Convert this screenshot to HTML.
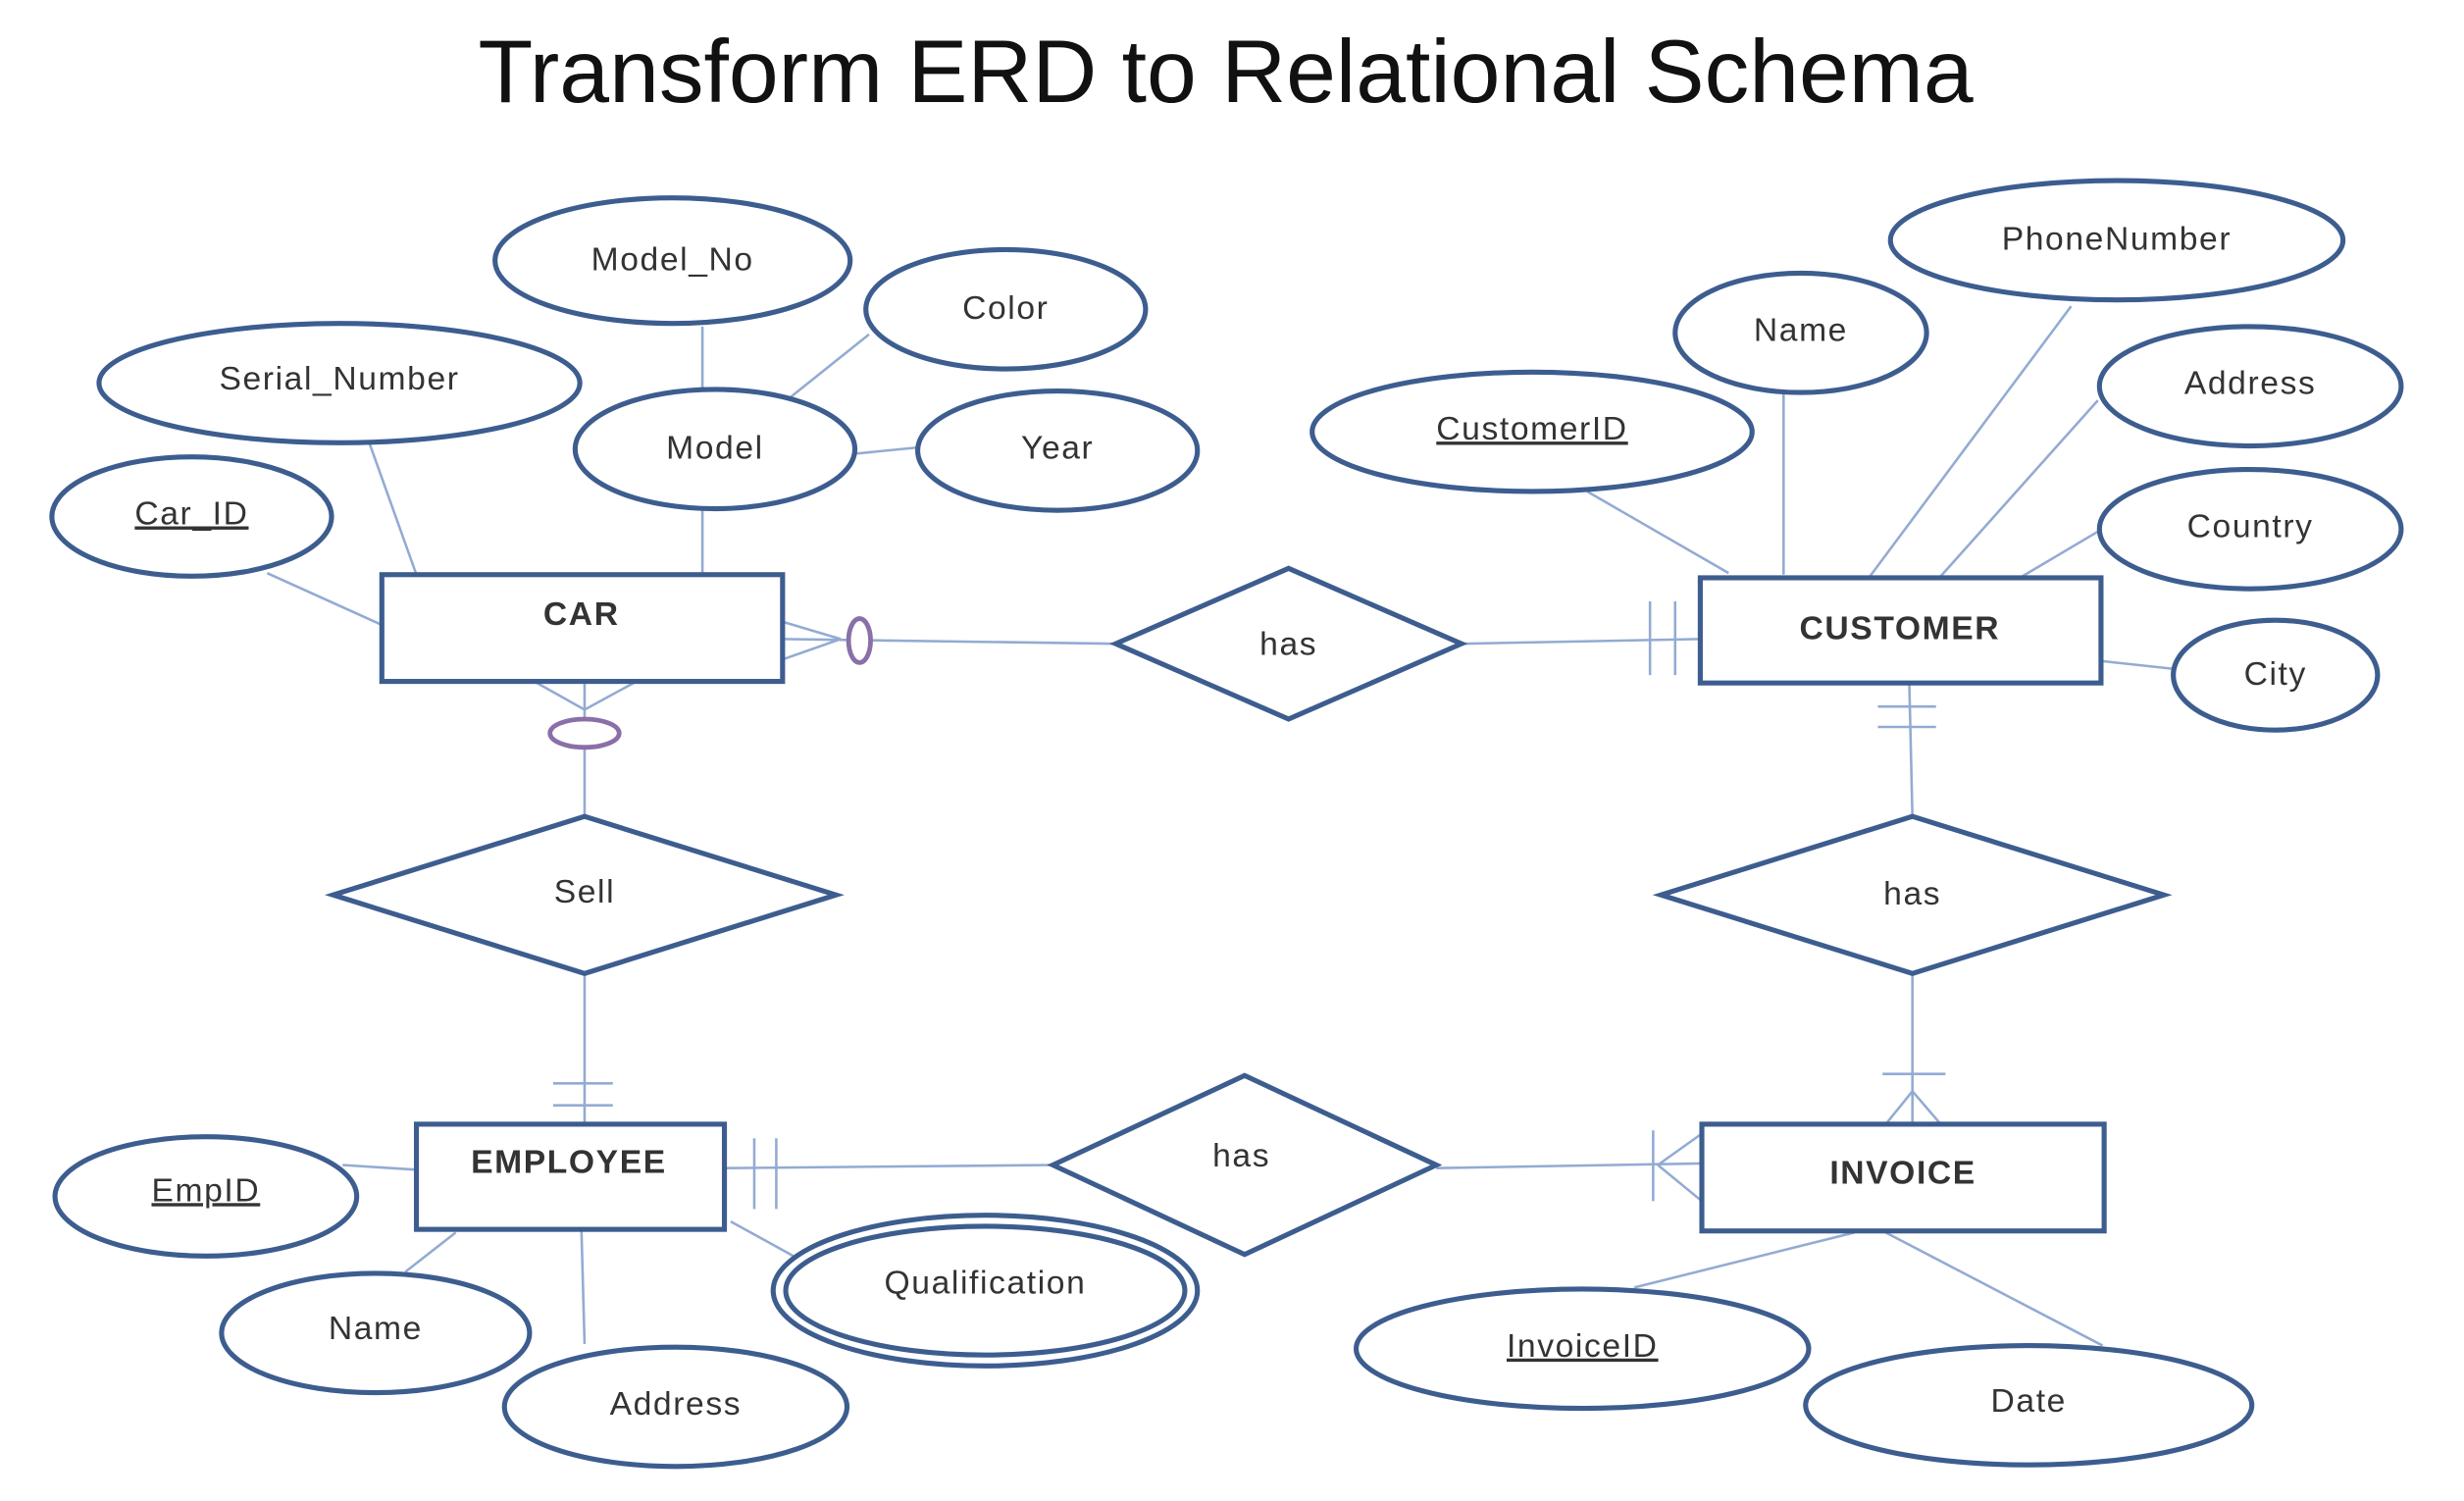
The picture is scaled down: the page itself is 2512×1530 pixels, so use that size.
<!DOCTYPE html>
<html><head><meta charset="utf-8"><style>
html,body{margin:0;padding:0;background:#fff;}
svg{display:block;}
text{font-family:"Liberation Sans",sans-serif;fill:#333;}
</style></head><body>
<svg width="2512" height="1530" viewBox="0 0 1568 956" preserveAspectRatio="none" xmlns="http://www.w3.org/2000/svg">
<rect width="1568" height="956" fill="#fff"/>
<text x="780" y="65" font-size="57" text-anchor="middle" style="fill:#111">Transform ERD to Relational Schema</text>
<g stroke="#93abd3" stroke-width="1.6" fill="none">
<line x1="447" y1="208" x2="447" y2="248"/>
<line x1="553" y1="213" x2="503" y2="253"/>
<line x1="544" y1="289" x2="584" y2="285"/>
<line x1="447" y1="325" x2="447" y2="366"/>
<line x1="235" y1="282" x2="265" y2="366"/>
<line x1="170" y1="365" x2="243" y2="398"/>
<line x1="498" y1="407" x2="710" y2="410"/>
<line x1="498" y1="396" x2="535" y2="407"/><line x1="498" y1="420" x2="535" y2="407"/>
<line x1="930" y1="410" x2="1082" y2="407"/>
<line x1="1050" y1="383" x2="1050" y2="430"/><line x1="1066" y1="383" x2="1066" y2="430"/>
<line x1="1010" y1="313" x2="1100" y2="365"/>
<line x1="1135" y1="250" x2="1135" y2="366"/>
<line x1="1318" y1="195" x2="1190" y2="367"/>
<line x1="1335" y1="255" x2="1235" y2="367"/>
<line x1="1336" y1="338" x2="1287" y2="367"/>
<line x1="1383" y1="426" x2="1337" y2="421"/>
<line x1="372" y1="434" x2="372" y2="520"/>
<line x1="340" y1="434" x2="372" y2="452"/><line x1="405" y1="434" x2="372" y2="452"/>
<line x1="372" y1="620" x2="372" y2="716"/>
<line x1="352" y1="690" x2="390" y2="690"/><line x1="352" y1="704" x2="390" y2="704"/>
<line x1="1215" y1="435" x2="1217" y2="520"/>
<line x1="1195" y1="450" x2="1232" y2="450"/><line x1="1195" y1="463" x2="1232" y2="463"/>
<line x1="1217" y1="620" x2="1217" y2="716"/>
<line x1="1198" y1="684" x2="1238" y2="684"/>
<line x1="1217" y1="695" x2="1200" y2="716"/><line x1="1217" y1="695" x2="1235" y2="716"/>
<line x1="461" y1="744" x2="670" y2="742"/>
<line x1="480" y1="725" x2="480" y2="770"/><line x1="494" y1="725" x2="494" y2="770"/>
<line x1="914" y1="744" x2="1083" y2="741"/>
<line x1="1083" y1="722" x2="1055" y2="742"/><line x1="1083" y1="765" x2="1055" y2="742"/>
<line x1="1052" y1="720" x2="1052" y2="765"/>
<line x1="218" y1="742" x2="265" y2="745"/>
<line x1="258" y1="810" x2="290" y2="785"/>
<line x1="372" y1="856" x2="370" y2="783"/>
<line x1="505" y1="800" x2="465" y2="778"/>
<line x1="1040" y1="820" x2="1180" y2="785"/>
<line x1="1200" y1="785" x2="1338" y2="857"/>
</g>
<g stroke="#8a6fa8" stroke-width="3" fill="#fff">
<ellipse cx="547" cy="408" rx="7" ry="14"/>
<ellipse cx="372" cy="467" rx="22" ry="9"/>
</g>
<g stroke="#3d5d8f" stroke-width="3.2" fill="#fff">
<ellipse cx="428" cy="166" rx="113" ry="40"/>
<ellipse cx="640" cy="197" rx="89" ry="38"/>
<ellipse cx="216" cy="244" rx="153" ry="38"/>
<ellipse cx="455" cy="286" rx="89" ry="38"/>
<ellipse cx="673" cy="287" rx="89" ry="38"/>
<ellipse cx="122" cy="329" rx="89" ry="38"/>
<ellipse cx="975" cy="275" rx="140" ry="38"/>
<ellipse cx="1146" cy="212" rx="80" ry="38"/>
<ellipse cx="1347" cy="153" rx="144" ry="38"/>
<ellipse cx="1432" cy="246" rx="96" ry="38"/>
<ellipse cx="1432" cy="337" rx="96" ry="38"/>
<ellipse cx="1448" cy="430" rx="65" ry="35"/>
<ellipse cx="131" cy="762" rx="96" ry="38"/>
<ellipse cx="239" cy="849" rx="98" ry="38"/>
<ellipse cx="430" cy="896" rx="109" ry="38"/>
<ellipse cx="627" cy="822" rx="135" ry="48"/>
<ellipse cx="627" cy="822" rx="127" ry="41"/>
<ellipse cx="1007" cy="859" rx="144" ry="38"/>
<ellipse cx="1291" cy="895" rx="142" ry="38"/>
<rect x="243" y="366" width="255" height="68"/>
<rect x="1082" y="368" width="255" height="67"/>
<rect x="265" y="716" width="196" height="67"/>
<rect x="1083" y="716" width="256" height="68"/>
<polygon points="710,410 820,362 930,410 820,458"/>
<polygon points="212,570 372,520 532,570 372,620"/>
<polygon points="1057,570 1217,520 1377,570 1217,620"/>
<polygon points="670,742 792,685 914,742 792,799"/>
</g>
<g font-size="21" text-anchor="middle" letter-spacing="1">
<text x="428" y="172">Model_No</text>
<text x="640" y="203">Color</text>
<text x="216" y="248">Serial_Number</text>
<text x="455" y="292">Model</text>
<text x="673" y="292">Year</text>
<text x="122" y="334" text-decoration="underline">Car_ID</text>
<text x="975" y="280" text-decoration="underline">CustomerID</text>
<text x="1146" y="217">Name</text>
<text x="1347" y="159">PhoneNumber</text>
<text x="1432" y="251">Address</text>
<text x="1432" y="342">Country</text>
<text x="1448" y="436">City</text>
<text x="131" y="765" text-decoration="underline">EmpID</text>
<text x="239" y="853">Name</text>
<text x="430" y="901">Address</text>
<text x="627" y="824">Qualification</text>
<text x="1007" y="864" text-decoration="underline">InvoiceID</text>
<text x="1291" y="899">Date</text>
<text x="820" y="417">has</text>
<text x="372" y="575">Sell</text>
<text x="1217" y="576">has</text>
<text x="790" y="743">has</text>
<g font-weight="bold" style="fill:#111">
<text x="370" y="398">CAR</text>
<text x="1209" y="407">CUSTOMER</text>
<text x="362" y="747">EMPLOYEE</text>
<text x="1211" y="754">INVOICE</text>
</g>
</g>
</svg>
</body></html>
